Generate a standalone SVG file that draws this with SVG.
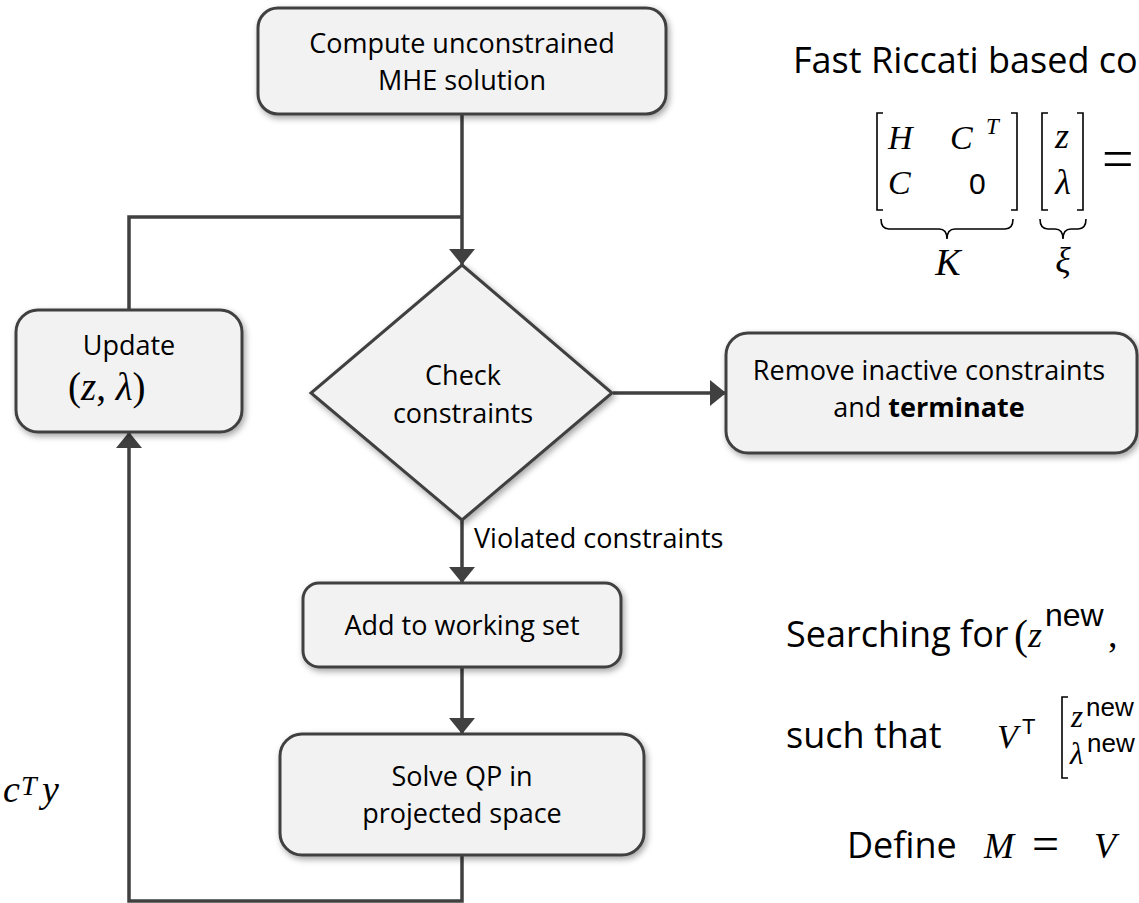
<svg xmlns="http://www.w3.org/2000/svg" width="1139" height="903" viewBox="0 0 1139 903">
  <defs>
    <filter id="shadow" x="-10%" y="-10%" width="125%" height="130%">
      <feDropShadow dx="2" dy="3" stdDeviation="3" flood-color="#000" flood-opacity="0.35"/>
    </filter>
    <marker id="arrow" markerUnits="userSpaceOnUse" markerWidth="16" markerHeight="26" refX="16" refY="13" orient="auto">
      <path d="M0,0 L16,13 L0,26 z" fill="#404040"/>
    </marker>
    <style>
      .box { fill: #f2f2f2; stroke: #404040; stroke-width: 3; filter: url(#shadow); }
      .edge { fill: none; stroke: #404040; stroke-width: 3.5; }
      .lbl { font-family: "Open Sans", "Liberation Sans", sans-serif; font-size: 27px; fill: #000; text-anchor: middle; }
      .side { font-family: "Open Sans", "Liberation Sans", sans-serif; font-size: 36px; fill: #000; }
      .mi { font-family: "Liberation Serif", "DejaVu Serif", serif; font-style: italic; fill: #000; }
      .mr { font-family: "Liberation Serif", "DejaVu Serif", serif; fill: #000; }
      .ms { font-family: "Liberation Sans", "DejaVu Sans", sans-serif; fill: #000; }
      .delim { fill: none; stroke: #000; stroke-width: 1.6; }
    </style>
  </defs>

  <!-- connectors -->
  <g id="connectors">
    <path class="edge" d="M462,114 V265" marker-end="url(#arrow)"/>
    <path class="edge" d="M129,310 V217 H462"/>
    <path class="edge" d="M613,393 H726" marker-end="url(#arrow)"/>
    <path class="edge" d="M462,520 V583" marker-end="url(#arrow)"/>
    <path class="edge" d="M462,667 V734" marker-end="url(#arrow)"/>
    <path class="edge" d="M462,855 V901 H129 V432" marker-end="url(#arrow)"/>
  </g>

  <!-- flowchart nodes -->
  <g id="node-compute">
    <rect class="box" x="258" y="8" width="408" height="106" rx="20"/>
    <text class="lbl" x="462" y="53">Compute unconstrained</text>
    <text class="lbl" x="462" y="90">MHE solution</text>
  </g>

  <g id="node-update">
    <rect class="box" x="16" y="310" width="226" height="122" rx="22"/>
    <text class="lbl" x="129" y="355">Update</text>
    <text x="68" y="400" font-size="39"><tspan class="mr">(</tspan><tspan class="mi">z</tspan><tspan class="mr">, </tspan><tspan class="mi">λ</tspan><tspan class="mr">)</tspan></text>
  </g>

  <g id="node-check">
    <polygon class="box" points="462,265 612,393 462,520 311,393"/>
    <text class="lbl" x="463" y="385">Check</text>
    <text class="lbl" x="463" y="423">constraints</text>
  </g>

  <g id="node-remove">
    <rect class="box" x="726" y="333" width="411" height="120" rx="22"/>
    <text class="lbl" x="929" y="380">Remove inactive constraints</text>
    <text class="lbl" x="929" y="417">and <tspan font-weight="bold">terminate</tspan></text>
  </g>

  <text id="label-violated" class="lbl" x="474" y="548" style="text-anchor:start">Violated constraints</text>

  <g id="node-add">
    <rect class="box" x="303" y="583" width="318" height="84" rx="16"/>
    <text class="lbl" x="462" y="635">Add to working set</text>
  </g>

  <g id="node-solve">
    <rect class="box" x="280" y="734" width="364" height="121" rx="22"/>
    <text class="lbl" x="462" y="786">Solve QP in</text>
    <text class="lbl" x="462" y="823">projected space</text>
  </g>

  <!-- objective fragment at the left edge -->
  <g id="objective">
    <text class="mi" x="3" y="802" font-size="38">c</text>
    <text class="mi" x="21" y="795" font-size="28">T</text>
    <text class="mi" x="42" y="802" font-size="38">y</text>
  </g>

  <!-- KKT system -->
  <g id="kkt">
    <text class="side" x="793" y="73">Fast Riccati based co</text>
    <path class="delim" d="M883,113 H877 V210 H883"/>
    <path class="delim" d="M1011,113 H1017 V210 H1011"/>
    <text class="mi" x="888" y="149" font-size="34">H</text>
    <text class="mi" x="950" y="149" font-size="34">C</text>
    <text class="mi" x="986" y="134" font-size="23">T</text>
    <text class="mi" x="888" y="194" font-size="34">C</text>
    <text class="ms" x="969" y="194" font-size="30">0</text>
    <path class="delim" d="M1048,113 H1042 V210 H1048"/>
    <path class="delim" d="M1077,113 H1083 V210 H1077"/>
    <text class="mi" x="1062" y="148" font-size="36" text-anchor="middle">z</text>
    <text class="mi" x="1063" y="194" font-size="36" text-anchor="middle">λ</text>
    <text class="mr" x="1102" y="178" font-size="56">=</text>
    <path class="delim" d="M881,219 q0,10 8,10 h50 q8,0 8,10 q0,-10 8,-10 h50 q8,0 8,-10"/>
    <path class="delim" d="M1040,219 q0,10 8,10 h7 q8,0 8,10 q0,-10 8,-10 h7 q8,0 8,-10"/>
    <text class="mi" x="948" y="275" font-size="38" text-anchor="middle">K</text>
    <text class="mi" x="1063" y="272" font-size="36" text-anchor="middle">ξ</text>
  </g>

  <!-- search conditions -->
  <g id="search">
    <text class="side" x="786" y="647">Searching for</text>
    <text class="mr" x="1014" y="649" font-size="42">(</text>
    <text class="mi" x="1028" y="647" font-size="36">z</text>
    <text class="ms" x="1045" y="626" font-size="32">new</text>
    <text class="mr" x="1108" y="647" font-size="38">,</text>

    <text class="side" x="786" y="748">such that</text>
    <text class="mi" x="997" y="748" font-size="34">V</text>
    <text class="ms" x="1022" y="734" font-size="22">T</text>
    <path class="delim" d="M1068,697 H1062 V778 H1068"/>
    <text class="mi" x="1071" y="727" font-size="31">z</text>
    <text class="ms" x="1086" y="716" font-size="26">new</text>
    <text class="mi" x="1070" y="764" font-size="31">λ</text>
    <text class="ms" x="1087" y="752" font-size="26">new</text>

    <text class="side" x="847" y="858">Define</text>
    <text class="mi" x="984" y="858" font-size="36">M</text>
    <text class="mr" x="1032" y="860" font-size="48">=</text>
    <text class="mi" x="1094" y="858" font-size="36">V</text>
  </g>
</svg>
